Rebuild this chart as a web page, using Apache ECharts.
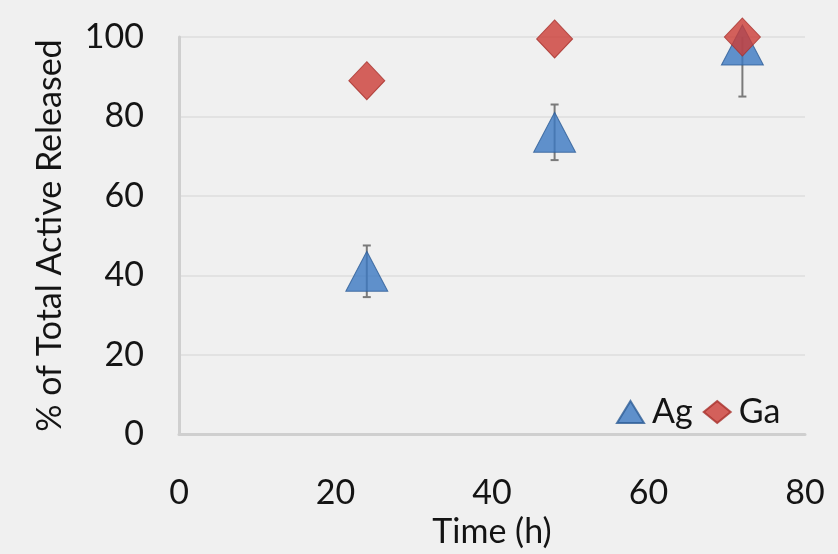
<!DOCTYPE html>
<html>
<head>
<meta charset="utf-8">
<script src="https://cdn.jsdelivr.net/npm/echarts@6/dist/echarts.min.js"></script>
<style>
html,body{margin:0;padding:0;background:#f0f0f0;}
#chart{width:838px;height:554px;}
</style>
</head>
<body>
<div id="chart"></div>
<script>
// Release time points (h)
const times = [24, 48, 72];
// Ag: mean % released and standard deviation
const agMean = [41, 76, 98];
const agErr = [6.5, 7, 13];
// Ga: mean % released
const gaMean = [89, 99.5, 100];
const xTicks = [0, 20, 40, 60, 80];
const yTicks = [0, 20, 40, 60, 80, 100];

const FONT = 'Lato';
const TEXT = '#141414';
const FS = 34;

const chart = echarts.init(document.getElementById('chart'));

const agPoints = times.map((t, i) => [t, agMean[i]]);
const gaPoints = times.map((t, i) => [t, gaMean[i]]);
const agBars = times.map((t, i) => [t, agMean[i] - agErr[i], agMean[i] + agErr[i]]);

function errorBar(params, api) {
  const x = api.value(0);
  const lo = api.coord([x, api.value(1)]);
  const hi = api.coord([x, api.value(2)]);
  const cap = 4;
  const style = { stroke: '#7a7a7a', lineWidth: 2 };
  return {
    type: 'group',
    children: [
      { type: 'line', shape: { x1: lo[0], y1: lo[1], x2: hi[0], y2: hi[1] }, style },
      { type: 'line', shape: { x1: lo[0] - cap, y1: lo[1], x2: lo[0] + cap, y2: lo[1] }, style },
      { type: 'line', shape: { x1: hi[0] - cap, y1: hi[1], x2: hi[0] + cap, y2: hi[1] }, style }
    ]
  };
}

chart.setOption({
  backgroundColor: '#f0f0f0',
  animation: false,
  grid: { left: 179, right: 33, top: 37, bottom: 118 },
  legend: {
    left: 611, top: 390,
    itemWidth: 27, itemHeight: 22, itemGap: 10,
    textStyle: { fontFamily: FONT, fontSize: FS, color: TEXT, padding: [0, 0, 0, 3] },
    data: [
      { name: 'Ag', icon: 'triangle' },
      { name: 'Ga', icon: 'diamond' }
    ]
  },
  xAxis: {
    type: 'value', min: xTicks[0], max: xTicks[xTicks.length - 1], interval: 20,
    name: 'Time (h)', nameLocation: 'middle', nameGap: 78,
    nameTextStyle: { fontFamily: FONT, fontSize: FS, color: TEXT },
    axisLine: { show: true, lineStyle: { color: '#cfcfcf', width: 3 } },
    axisTick: { show: false },
    splitLine: { show: false },
    axisLabel: { margin: 42, fontFamily: FONT, fontSize: FS, color: TEXT }
  },
  yAxis: {
    type: 'value', min: yTicks[0], max: yTicks[yTicks.length - 1], interval: 20,
    name: '% of Total Active Released', nameLocation: 'middle', nameGap: 112,
    nameTextStyle: { fontFamily: FONT, fontSize: FS, color: TEXT },
    axisLine: { show: true, lineStyle: { color: '#cfcfcf', width: 3 } },
    axisTick: { show: false },
    splitLine: { show: true, lineStyle: { color: '#e2e2e2', width: 2 } },
    axisLabel: { margin: 35, fontFamily: FONT, fontSize: FS, color: TEXT }
  },
  series: [
    {
      name: 'Ag err', type: 'custom', renderItem: errorBar, data: agBars,
      clip: true, z: 2, silent: true,
      encode: { x: 0, y: [1, 2] }
    },
    {
      name: 'Ag', type: 'scatter', data: agPoints, symbol: 'triangle',
      symbolSize: [42, 40], clip: false, z: 3,
      itemStyle: { color: '#3b78c2', borderColor: '#2d5d96', borderWidth: 1 }
    },
    {
      name: 'Ga', type: 'scatter', data: gaPoints, symbol: 'diamond',
      symbolSize: [36, 38], clip: false, z: 4,
      itemStyle: { color: '#cc3c36', borderColor: '#a8302b', borderWidth: 1 }
    }
  ]
});
</script>
</body>
</html>
